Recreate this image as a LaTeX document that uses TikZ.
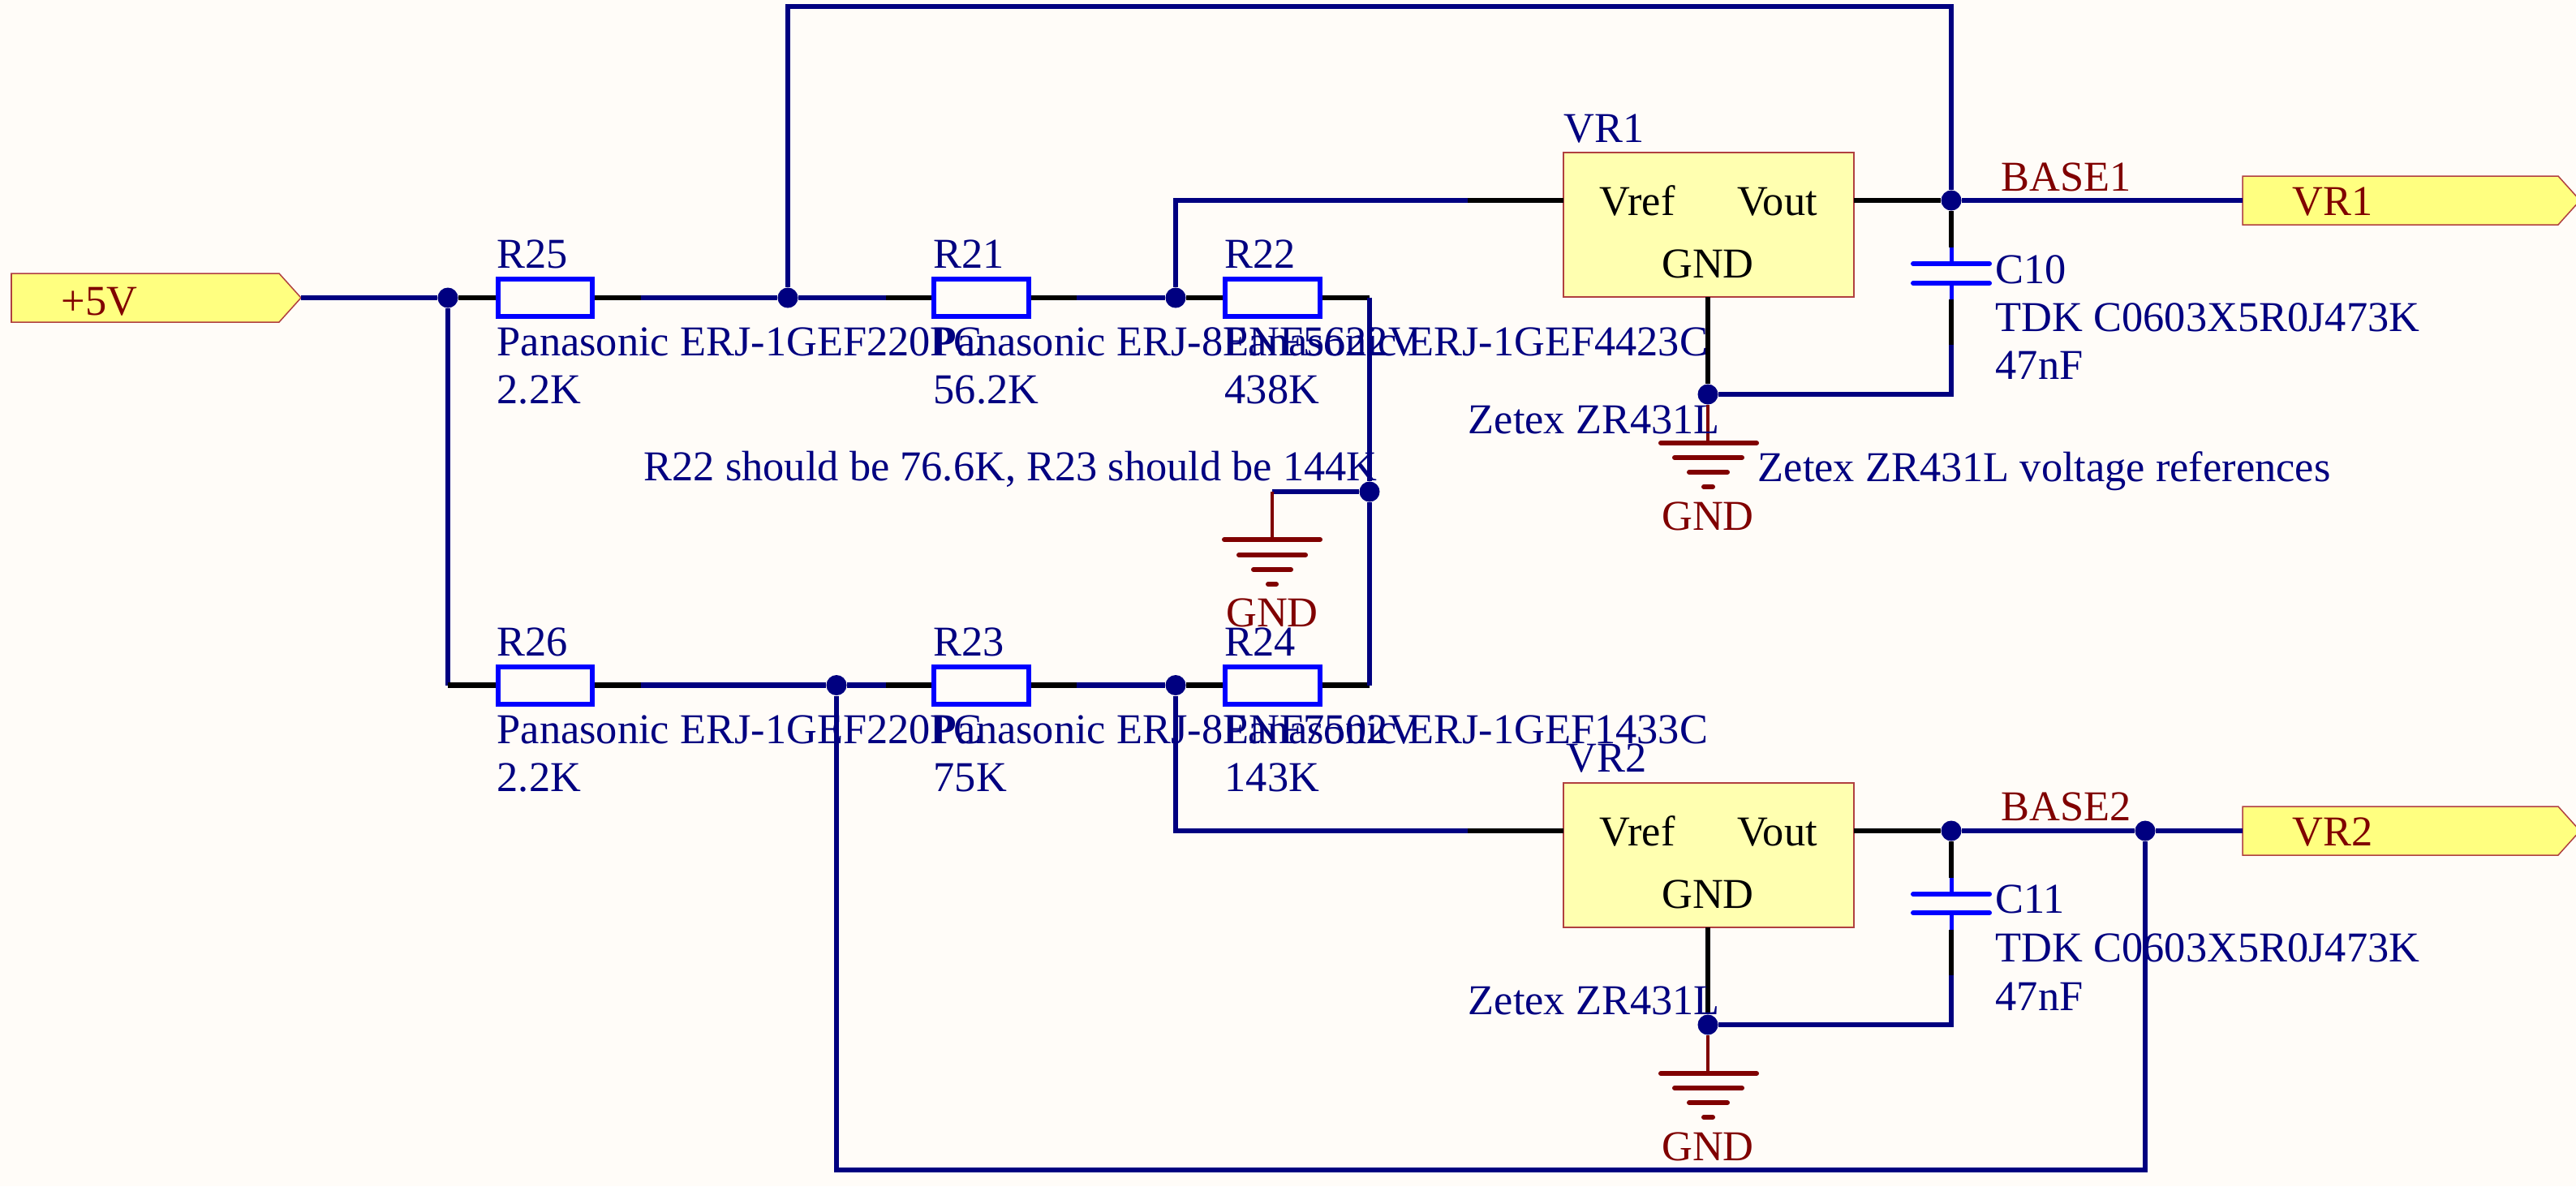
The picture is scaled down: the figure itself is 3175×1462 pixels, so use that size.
\documentclass[tikz,border=0pt]{standalone}
\usepackage{fontspec}
\setmainfont{Liberation Serif}
\usetikzlibrary{%
  positioning,%
  calc%
}
\definecolor{paper}{HTML}{FFFCF8}
\definecolor{wirecol}{HTML}{000080}
\definecolor{partcol}{HTML}{0000FF}
\definecolor{gndcol}{HTML}{800000}
\definecolor{portfill}{HTML}{FFFF80}
\definecolor{chipfill}{HTML}{FFFFB0}
\definecolor{edgecol}{HTML}{B04040}

\begin{document}
\begin{tikzpicture}[
  x=0.01cm, y=-0.01cm, line cap=butt,
  font=\fontsize{14.9}{18}\selectfont,
  wire/.style={draw=wirecol, line width=0.065cm},
  pin/.style={draw=black, line width=0.065cm},
  lead/.style={draw=partcol, line width=0.05cm},
  gndwire/.style={draw=gndcol, line width=0.045cm},
  plate/.style={draw=gndcol, line width=0.06cm, line cap=round},
  capplate/.style={draw=partcol, line width=0.06cm, line cap=round},
  res/.style={rectangle, draw=partcol, fill=paper, line width=0.06cm, minimum width=1.16cm, minimum height=0.46cm, inner sep=0pt},
  chip/.style={rectangle, draw=edgecol, fill=chipfill, line width=0.015cm, minimum width=3.58cm, minimum height=1.78cm, inner sep=0pt},
  port/.style={draw=edgecol, fill=portfill, line width=0.015cm},
  dot/.style={circle, fill=wirecol, minimum size=0.25cm, inner sep=0pt},
  txt/.style={anchor=base west, inner sep=0pt, text=wirecol},
  red/.style={anchor=base west, inner sep=0pt, text=gndcol},
  blk/.style={anchor=base west, inner sep=0pt, text=black},
  redmid/.style={anchor=base, inner sep=0pt, text=gndcol}
]

\fill[paper] (0,0) rectangle (3175,1462);
\useasboundingbox (0,0) rectangle (3175,1462);

\filldraw[port] (14,337) -- (344,337) -- (371,367) -- (344,397) -- (14,397) -- cycle;
\filldraw[port] (2764,217) -- (3153,217) -- (3180,247) -- (3153,277) -- (2764,277) -- cycle;
\filldraw[port] (2764,994) -- (3153,994) -- (3180,1024) -- (3153,1054) -- (2764,1054) -- cycle;
\node[red] (p5-text) at (75,388) {+5V};
\node[red] (pvr1-text) at (2825,265) {VR1};
\node[red] (pvr2-text) at (2825,1042) {VR2};

\coordinate (p5) at (371,367);
\coordinate (pvr1) at (2764,247);
\coordinate (pvr2) at (2764,1024);

\node[res] (R25) at (672,367) {};
\node[res] (R21) at (1209.5,367) {};
\node[res] (R22) at (1568.5,367) {};
\node[res] (R26) at (672,844.5) {};
\node[res] (R23) at (1209.5,844.5) {};
\node[res] (R24) at (1568.5,844.5) {};
\node[chip] (VR1) at (2106,277) {};
\node[chip] (VR2) at (2106,1054) {};

\node[dot] (j1) at (552,367) {};
\node[dot] (j2) at (971,367) {};
\node[dot] (j3) at (1449,367) {};
\node[dot] (j4) at (1688,606) {};
\node[dot] (j5) at (2405,247) {};
\node[dot] (j6) at (2105,486) {};
\node[dot] (j7) at (1031,844.5) {};
\node[dot] (j8) at (1449,844.5) {};
\node[dot] (j9) at (2405,1024) {};
\node[dot] (j10) at (2644,1024) {};
\node[dot] (j11) at (2105,1263) {};

\coordinate (r25e) at (790,367);
\coordinate (r21w) at (1092,367);
\coordinate (r21e) at (1327,367);
\coordinate (r22e) at (1688,367);
\coordinate (r26w) at (552,844.5);
\coordinate (r26e) at (790,844.5);
\coordinate (r23w) at (1092,844.5);
\coordinate (r23e) at (1327,844.5);
\coordinate (r24e) at (1688,844.5);
\coordinate (top1) at (971,8);
\coordinate (top2) at (2405,8);
\coordinate (bot1) at (1031,1442);
\coordinate (bot2) at (2644,1442);
\coordinate (vr1a) at (1449,247);
\coordinate (vr1b) at (1809,247);
\coordinate (vr1c) at (1927,247);
\coordinate (vr1d) at (2285,247);
\coordinate (vr1g) at (2105,366);
\coordinate (vr2a) at (1449,1024);
\coordinate (vr2b) at (1809,1024);
\coordinate (vr2c) at (1927,1024);
\coordinate (vr2d) at (2285,1024);
\coordinate (vr2g) at (2105,1143);
\coordinate (c10t) at (2405,305);
\coordinate (c10u) at (2405,325);
\coordinate (c10v) at (2405,349);
\coordinate (c10w) at (2405,369);
\coordinate (c10x) at (2405,425);
\coordinate (c10y) at (2405,486);
\coordinate (c11t) at (2405,1082);
\coordinate (c11u) at (2405,1102);
\coordinate (c11v) at (2405,1125);
\coordinate (c11w) at (2405,1146);
\coordinate (c11x) at (2405,1202);
\coordinate (c11y) at (2405,1263);
\coordinate (g0c) at (1568,606);
\coordinate (g0) at (1568,665);
\coordinate (g1) at (2105,546);
\coordinate (g2) at (2105,1323);

\draw[wire] (p5) -- (j1);
\draw[pin] (j1) -- (R25);
\draw[pin] (R25) -- (r25e);
\draw[wire] (r25e) -- (j2);
\draw[wire] (j2) -- (r21w);
\draw[pin] (r21w) -- (R21);
\draw[pin] (R21) -- (r21e);
\draw[wire] (r21e) -- (j3);
\draw[pin] (j3) -- (R22);
\draw[pin] (R22) -- (r22e);
\draw[wire] (j1) -- (r26w);
\draw[pin] (r26w) -- (R26);
\draw[pin] (R26) -- (r26e);
\draw[wire] (r26e) -- (j7);
\draw[wire] (j7) -- (r23w);
\draw[pin] (r23w) -- (R23);
\draw[pin] (R23) -- (r23e);
\draw[wire] (r23e) -- (j8);
\draw[pin] (j8) -- (R24);
\draw[pin] (R24) -- (r24e);
\draw[wire,line cap=square] (r22e) -- (j4);
\draw[wire,line cap=square] (j4) -- (r24e);
\draw[wire,line join=miter] (j2) -- (top1) -- (top2) -- (j5);
\draw[wire,line join=miter] (j7) -- (bot1) -- (bot2) -- (j10);

\draw[wire,line join=miter] (j3) -- (vr1a) -- (vr1b);
\draw[pin] (vr1b) -- (vr1c);
\draw[pin] (vr1d) -- (j5);
\draw[wire] (j5) -- (pvr1);
\draw[pin] (j5) -- (c10t);
\draw[lead] (c10t) -- (c10u);
\draw[lead] (c10v) -- (c10w);
\draw[pin] (c10w) -- (c10x);
\draw[wire,line join=miter] (c10x) -- (c10y) -- (j6);
\draw[pin] (vr1g) -- (j6);
\draw[capplate] (2358,325) -- (2452,325);
\draw[capplate] (2358,349) -- (2452,349);

\draw[wire,line join=miter] (j8) -- (vr2a) -- (vr2b);
\draw[pin] (vr2b) -- (vr2c);
\draw[pin] (vr2d) -- (j9);
\draw[wire] (j9) -- (j10);
\draw[wire] (j10) -- (pvr2);
\draw[pin] (j9) -- (c11t);
\draw[lead] (c11t) -- (c11u);
\draw[lead] (c11v) -- (c11w);
\draw[pin] (c11w) -- (c11x);
\draw[wire,line join=miter] (c11x) -- (c11y) -- (j11);
\draw[pin] (vr2g) -- (j11);
\draw[capplate] (2358,1102) -- (2452,1102);
\draw[capplate] (2358,1125) -- (2452,1125);

\draw[wire] (j4) -- (g0c);
\draw[gndwire] (g0c) -- (g0);
\draw[plate] (1509,665) -- (1627,665);
\draw[plate] (1527,684) -- (1609,684);
\draw[plate] (1545,702) -- (1591,702);
\draw[plate] (1563,720) -- (1573,720);

\draw[gndwire] (j6) -- (g1);
\draw[plate] (2047,546) -- (2165,546);
\draw[plate] (2064,564) -- (2147,564);
\draw[plate] (2082,582) -- (2129,582);
\draw[plate] (2100,600) -- (2111,600);

\draw[gndwire] (j11) -- (g2);
\draw[plate] (2047,1323) -- (2165,1323);
\draw[plate] (2064,1341) -- (2147,1341);
\draw[plate] (2082,1359) -- (2129,1359);
\draw[plate] (2100,1377) -- (2111,1377);

\node[txt] (R25-ref) at (612,330) {R25};
\node[txt] (R25-part) at (612,438) {Panasonic ERJ-1GEF220PC};
\node[txt] (R25-val) at (612,497) {2.2K};
\node[txt] (R21-ref) at (1150,330) {R21};
\node[txt] (R21-part) at (1150,438) {Panasonic ERJ-8ENF5622V};
\node[txt] (R21-val) at (1150,497) {56.2K};
\node[txt] (R22-ref) at (1509,330) {R22};
\node[txt] (R22-part) at (1509,438) {Panasonic ERJ-1GEF4423C};
\node[txt] (R22-val) at (1509,497) {438K};
\node[txt] (R26-ref) at (612,808) {R26};
\node[txt] (R26-part) at (612,916) {Panasonic ERJ-1GEF220PC};
\node[txt] (R26-val) at (612,975) {2.2K};
\node[txt] (R23-ref) at (1150,808) {R23};
\node[txt] (R23-part) at (1150,916) {Panasonic ERJ-8ENF7502V};
\node[txt] (R23-val) at (1150,975) {75K};
\node[txt] (R24-ref) at (1509,808) {R24};
\node[txt] (R24-part) at (1509,916) {Panasonic ERJ-1GEF1433C};
\node[txt] (R24-val) at (1509,975) {143K};

\node[txt] (note1) at (793,592) {R22 should be 76.6K, R23 should be 144K};
\node[txt] (note2) at (2166,593) {Zetex ZR431L voltage references};

\node[txt] (VR1-ref) at (1927,175) {VR1};
\node[blk] (VR1-in) at (1971,265) {Vref};
\node[blk] (VR1-out) at (2141,265) {Vout};
\node[blk,anchor=base] (VR1-gnd) at (2105,342) {GND};
\node[txt] (VR1-part) at (1809,534) {Zetex ZR431L};
\node[red] (BASE1) at (2466,235) {BASE1};
\node[txt] (C10-ref) at (2459,349) {C10};
\node[txt] (C10-part) at (2459,408) {TDK C0603X5R0J473K};
\node[txt] (C10-val) at (2459,467) {47nF};

\node[txt] (VR2-ref) at (1930,951) {VR2};
\node[blk] (VR2-in) at (1971,1042) {Vref};
\node[blk] (VR2-out) at (2141,1042) {Vout};
\node[blk,anchor=base] (VR2-gnd) at (2105,1119) {GND};
\node[txt] (VR2-part) at (1809,1250) {Zetex ZR431L};
\node[red] (BASE2) at (2466,1011) {BASE2};
\node[txt] (C11-ref) at (2459,1125) {C11};
\node[txt] (C11-part) at (2459,1185) {TDK C0603X5R0J473K};
\node[txt] (C11-val) at (2459,1245) {47nF};

\node[redmid] (g0-text) at (1568,772) {GND};
\node[redmid] (g1-text) at (2105,653) {GND};
\node[redmid] (g2-text) at (2105,1430) {GND};
\end{tikzpicture}
\end{document}
